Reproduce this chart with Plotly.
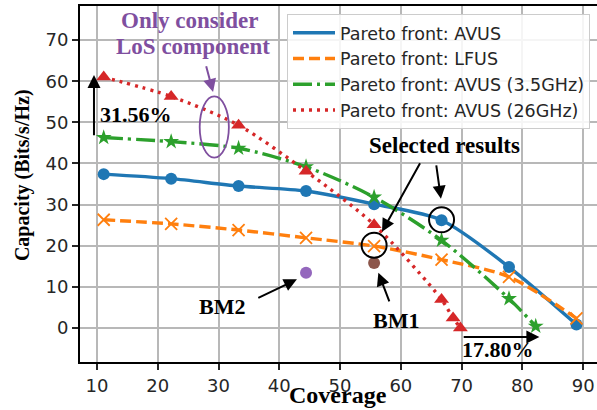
import plotly.graph_objects as go

# ---- data ----
coverage = [11.1, 22.2, 33.3, 44.4, 55.6, 66.7, 77.8, 88.9]
cap_avus = [37.4, 36.3, 34.5, 33.3, 30.1, 26.2, 14.8, 0.8]
cap_lfus = [26.3, 25.3, 23.8, 21.9, 19.9, 16.6, 12.4, 2.3]

cov_35 = [11.1, 22.2, 33.3, 44.4, 55.6, 66.7, 77.8, 82.2]
cap_35 = [46.3, 45.3, 43.7, 39.2, 31.8, 21.3, 7.1, 0.4]

cov_26 = [11.1, 22.2, 33.3, 44.4, 55.6, 66.7, 68.6, 69.8]
cap_26 = [61.0, 56.3, 49.3, 38.1, 25.1, 6.9, 2.4, 0.0]

bm_names = ["BM1", "BM2"]
bm_cov = [55.6, 44.4]
bm_cap = [15.8, 13.4]

sel_cov = [55.6, 66.7]
sel_cap = [20.1, 26.3]

BLUE, ORANGE, GREEN, RED = "#1f77b4", "#ff7f0e", "#2ca02c", "#d62728"
PURPLE_TXT = "#7f4f9f"
SERIF = "Liberation Serif, Times New Roman, serif"
SANS = "DejaVu Sans, sans-serif"

series = [
    ("Pareto front: AVUS", coverage, cap_avus, BLUE, "solid", "circle", 12),
    ("Pareto front: LFUS", coverage, cap_lfus, ORANGE, "11px,5px", "x-thin-open", 12),
    ("Pareto front: AVUS (3.5GHz)", cov_35, cap_35, GREEN, "19px,5px,3px,5px", "star", 12),
    ("Pareto front: AVUS (26GHz)", cov_26, cap_26, RED, "3px,5px", "triangle-up", 13),
]

fig = go.Figure()

for i, (name, xs, ys, col, dash, sym, msz) in enumerate(series):
    # line only (goes to legend)
    fig.add_trace(go.Scatter(
        x=xs, y=ys, mode="lines", name=name, legendgroup=str(i),
        line=dict(color=col, width=3.4, dash=dash, shape="spline", smoothing=0.8),
    ))
    # markers, kept out of legend
    mk = dict(color=col, size=msz, symbol=sym)
    if sym == "x-thin-open":
        mk["line"] = dict(color=col, width=1.8)
    fig.add_trace(go.Scatter(
        x=xs, y=ys, mode="markers", showlegend=False, marker=mk, hoverinfo="skip",
    ))

# benchmark points
fig.add_trace(go.Scatter(x=bm_cov, y=bm_cap, mode="markers", showlegend=False,
                         marker=dict(color=["#8c564b", "#9467bd"], size=12)))
# selected results circles
fig.add_trace(go.Scatter(x=sel_cov, y=sel_cap, mode="markers", showlegend=False,
                         marker=dict(symbol="circle-open", size=25, color="black",
                                     line=dict(width=2, color="black"))))

# ellipse around LoS region
fig.add_shape(type="circle", xref="x", yref="y", x0=26.9, x1=31.7, y0=41.4, y1=56.3,
              line=dict(color=PURPLE_TXT, width=1.8))

def arrow(x, y, ax, ay, color="black"):
    fig.add_annotation(x=x, y=y, ax=ax, ay=ay, xref="x", yref="y", axref="x", ayref="y",
                       showarrow=True, arrowhead=2, arrowsize=1.3, arrowwidth=2,
                       arrowcolor=color, text="")

def label(x, y, txt, size=22, color="black"):
    fig.add_annotation(x=x, y=y, xref="x", yref="y", text="<b>%s</b>" % txt,
                       showarrow=False, font=dict(family=SERIF, size=size, color=color))

arrow(9.5, 61.5, 9.5, 46.5)
label(16.4, 51.8, "31.56%")
arrow(82.8, -2.2, 70.1, -2.2)
label(76.0, -5.2, "17.80%")

label(25.3, 74.7, "Only consider", size=23, color=PURPLE_TXT)
label(25.8, 68.4, "LoS component", size=23, color=PURPLE_TXT)
arrow(29.1, 57.4, 27.9, 64.0, color=PURPLE_TXT)

label(67.2, 44.3, "Selected results", size=23)
arrow(56.9, 23.4, 63.3, 40.4)
arrow(66.6, 31.4, 65.8, 39.9)

label(bm_cov[1] - 13.8, 5.1, bm_names[1])
arrow(42.9, 11.8, 36.3, 7.1)
label(bm_cov[0] + 3.6, 1.9, bm_names[0])
arrow(56.3, 13.4, 58.2, 6.1)

# axis titles as annotations for exact placement (plot area is 80..605 px wide)
fig.add_annotation(x=(338 - 80) / 525, y=-0.094, xref="paper", yref="paper", showarrow=False,
                   text="<b>Coverage</b>", xanchor="center", yanchor="middle",
                   font=dict(family=SERIF, size=24, color="black"))
fig.add_annotation(x=(22 - 80) / 525, y=0.525, xref="paper", yref="paper", showarrow=False,
                   text="<b>Capacity (Bits/s/Hz)</b>", textangle=-90,
                   xanchor="center", yanchor="middle",
                   font=dict(family=SERIF, size=20, color="black"))

axis_common = dict(
    showgrid=True, gridcolor="#b8b8b8", gridwidth=1.5, zeroline=False,
    showline=True, linecolor="black", linewidth=2, automargin=False,
    ticks="outside", ticklen=6, tickwidth=1.5, tickcolor="#262626",
    tickfont=dict(family=SANS, size=18, color="#262626"),
)

fig.update_xaxes(range=[7.2, 93.6], tickmode="array",
                 tickvals=[10, 20, 30, 40, 50, 60, 70, 80, 90], mirror=True,
                 **axis_common)
fig.update_yaxes(range=[-8.3, 78.3], tickmode="array",
                 tickvals=[0, 10, 20, 30, 40, 50, 60, 70],
                 **axis_common)

fig.update_layout(
    width=605, height=410,
    margin=dict(l=80, r=0, t=6, b=48),
    plot_bgcolor="white", paper_bgcolor="white",
    legend=dict(x=(287 - 80) / 525, y=0.978, xanchor="left", yanchor="top", itemwidth=42,
                bgcolor="rgba(255,255,255,0.85)", bordercolor="#cccccc", borderwidth=1,
                font=dict(family=SANS, size=17.5, color="#262626"), tracegroupgap=0),
)

fig.write_html("out.html", config={"displayModeBar": False},
               post_script="document.body.style.margin='0px';document.body.style.overflow='hidden';")
